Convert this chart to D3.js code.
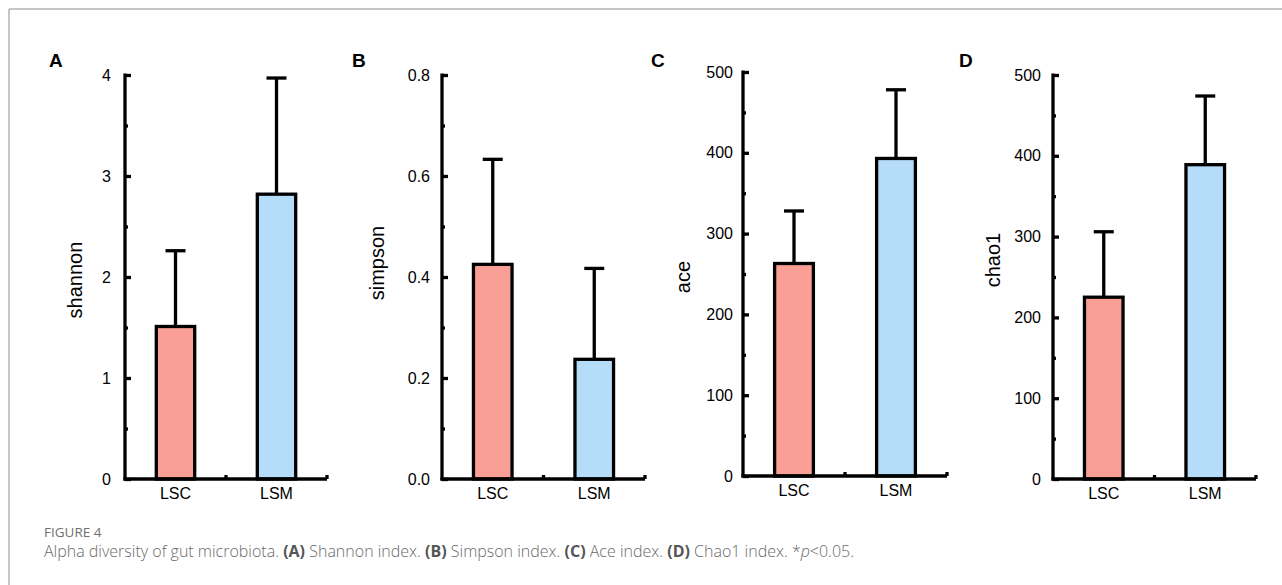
<!DOCTYPE html>
<html>
<head>
<meta charset="utf-8">
<script src="https://cdn.jsdelivr.net/npm/d3@7"></script>
<style>
  html, body { margin: 0; padding: 0; background: #fff; }
  svg { display: block; }
</style>
</head>
<body>
<svg id="chart" width="1282" height="585"></svg>
<script>
// ---------- data ----------
const categories = ["LSC", "LSM"];

const shannonMean = [1.51, 2.82];
const shannonSD   = [0.75, 1.15];
const shannonTicks = [0, 1, 2, 3, 4];
const shannonMinor = [0.5, 1.5, 2.5, 3.5];

const simpsonMean = [0.425, 0.237];
const simpsonSD   = [0.208, 0.180];
const simpsonTicks = [0.0, 0.2, 0.4, 0.6, 0.8];
const simpsonMinor = [0.1, 0.3, 0.5, 0.7];

const aceMean = [263, 393];
const aceSD   = [65, 85];
const aceTicks = [0, 100, 200, 300, 400, 500];
const aceMinor = [50, 150, 250, 350, 450];

const chao1Mean = [225, 389];
const chao1SD   = [81, 85];
const chao1Ticks = [0, 100, 200, 300, 400, 500];
const chao1Minor = [50, 150, 250, 350, 450];

const panelLetters = ["A", "B", "C", "D"];
const yTitles = ["shannon", "simpson", "ace", "chao1"];

const figureLabel = "FIGURE 4";
const captionParts = [
  {t: "Alpha diversity of gut microbiota. "},
  {t: "(A)", b: true}, {t: " Shannon index. "},
  {t: "(B)", b: true}, {t: " Simpson index. "},
  {t: "(C)", b: true}, {t: " Ace index. "},
  {t: "(D)", b: true}, {t: " Chao1 index. *"},
  {t: "p", i: true}, {t: "<0.05."}
];

// ---------- layout ----------
const barColors = ["#FA9F96", "#B5DDFA"];
const layout = [
  {x0: 125, x1: 327, yTop: 75, yBot: 479, titleX: 75, titleY: 280, letterX: 49, pad: 14, fmt: d3.format("d")},
  {x0: 442, x1: 645, yTop: 75, yBot: 479, titleX: 377, titleY: 263, letterX: 352, pad: 12, fmt: d3.format(".1f")},
  {x0: 743, x1: 947, yTop: 72, yBot: 476, titleX: 683, titleY: 277, letterX: 651, pad: 10, fmt: d3.format("d")},
  {x0: 1053, x1: 1256, yTop: 75, yBot: 479, titleX: 993, titleY: 260, letterX: 959, pad: 12, fmt: d3.format("d")}
];
const series = [
  {mean: shannonMean, sd: shannonSD, ticks: shannonTicks, minor: shannonMinor},
  {mean: simpsonMean, sd: simpsonSD, ticks: simpsonTicks, minor: simpsonMinor},
  {mean: aceMean, sd: aceSD, ticks: aceTicks, minor: aceMinor},
  {mean: chao1Mean, sd: chao1SD, ticks: chao1Ticks, minor: chao1Minor}
];

const svg = d3.select("#chart");
const FONT = "'Liberation Sans', Arial, Helvetica, sans-serif";
const LW = 3.3;

// frame
svg.append("line").attr("x1", 9).attr("x2", 1282).attr("y1", 9).attr("y2", 9)
  .attr("stroke", "#b3b3b3").attr("stroke-width", 1.5);
svg.append("line").attr("x1", 9).attr("x2", 9).attr("y1", 9).attr("y2", 585)
  .attr("stroke", "#b3b3b3").attr("stroke-width", 1.5);

series.forEach((s, i) => {
  const L = layout[i];
  const g = svg.append("g");
  const y = d3.scaleLinear().domain([0, s.ticks[s.ticks.length - 1]]).range([L.yBot, L.yTop]);
  const x = d3.scaleBand().domain(categories).range([L.x0, L.x1]).paddingInner(0.61).paddingOuter(0.305);

  // bars
  g.selectAll("rect.bar").data(categories).join("rect")
    .attr("x", d => x(d) + 0.5)
    .attr("width", x.bandwidth() - 1)
    .attr("y", (d, k) => y(s.mean[k]))
    .attr("height", (d, k) => L.yBot - y(s.mean[k]))
    .attr("fill", (d, k) => barColors[k])
    .attr("stroke", "#000").attr("stroke-width", LW);

  // error bars
  const cap = 10;
  categories.forEach((c, k) => {
    const cx = x(c) + x.bandwidth() / 2;
    const yt = y(s.mean[k] + s.sd[k]);
    g.append("line").attr("x1", cx).attr("x2", cx)
      .attr("y1", y(s.mean[k])).attr("y2", yt)
      .attr("stroke", "#000").attr("stroke-width", LW);
    g.append("line").attr("x1", cx - cap).attr("x2", cx + cap)
      .attr("y1", yt).attr("y2", yt)
      .attr("stroke", "#000").attr("stroke-width", LW);
  });

  // y axis major
  const ya = g.append("g").attr("transform", `translate(${L.x0},0)`)
    .call(d3.axisLeft(y).tickValues(s.ticks).tickFormat(L.fmt)
      .tickSizeInner(-6).tickSizeOuter(0).tickPadding(L.pad));
  ya.select(".domain").attr("stroke-width", LW).attr("stroke", "#000")
    .attr("d", `M0,${L.yTop - 1.5}V${L.yBot + 1.5}`);
  ya.selectAll(".tick line").attr("stroke-width", LW).attr("stroke", "#000");
  ya.selectAll(".tick text").attr("font-family", FONT).attr("font-size", 16).attr("fill", "#000");

  // y axis minor
  const ym = g.append("g").attr("transform", `translate(${L.x0},0)`)
    .call(d3.axisLeft(y).tickValues(s.minor).tickFormat("").tickSizeInner(-3).tickSizeOuter(0));
  ym.select(".domain").remove();
  ym.selectAll(".tick line").attr("stroke-width", LW).attr("stroke", "#000");

  // x axis
  const xa = g.append("g").attr("transform", `translate(0,${L.yBot})`)
    .call(d3.axisBottom(x).tickSize(0).tickPadding(9));
  xa.select(".domain").attr("stroke-width", LW).attr("stroke", "#000")
    .attr("d", `M${L.x0 - 1.5},0H${L.x1}`);
  xa.selectAll(".tick text").attr("font-family", FONT).attr("font-size", 16).attr("fill", "#000");
  // boundary ticks (pointing up)
  categories.forEach(c => {
    const bx = x(c) + x.bandwidth() + (x.step() - x.bandwidth()) / 2;
    g.append("line").attr("x1", bx).attr("x2", bx)
      .attr("y1", L.yBot).attr("y2", L.yBot - 4)
      .attr("stroke", "#000").attr("stroke-width", LW);
  });

  // y title
  g.append("text")
    .attr("transform", `translate(${L.titleX},${L.titleY}) rotate(-90)`)
    .attr("text-anchor", "middle").attr("dominant-baseline", "central")
    .attr("font-family", FONT).attr("font-size", 20).text(yTitles[i]);

  // panel letter
  g.append("text").attr("x", L.letterX).attr("y", 67)
    .attr("font-family", FONT).attr("font-size", 19).attr("font-weight", "bold")
    .text(panelLetters[i]);
});

// caption
const CFONT = "'Open Sans', 'Noto Sans', sans-serif";
svg.append("text").attr("x", 44).attr("y", 537)
  .attr("font-family", CFONT).attr("font-size", 13.5).attr("fill", "#6f6f6f")
  .text(figureLabel);

const cap = svg.append("text").attr("x", 44).attr("y", 557)
  .attr("font-family", CFONT).attr("font-size", 16).attr("font-weight", 300).attr("fill", "#6a6a6a");
captionParts.forEach(p => {
  const ts = cap.append("tspan").text(p.t);
  if (p.b) ts.attr("font-weight", 700).attr("fill", "#555");
  if (p.i) ts.attr("font-style", "italic");
});
</script>
</body>
</html>
